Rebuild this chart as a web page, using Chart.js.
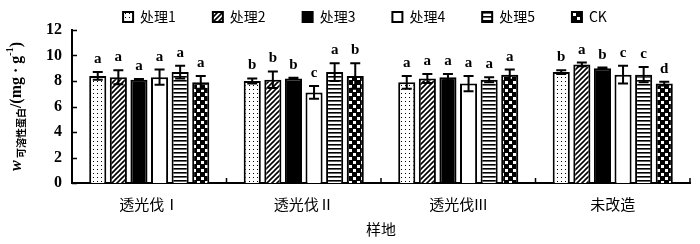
<!DOCTYPE html>
<html>
<head>
<meta charset="utf-8">
<script src="https://cdn.jsdelivr.net/npm/chart.js@4.4.1/dist/chart.umd.min.js"></script>
<style>
  html, body { margin: 0; padding: 0; background: #fff; }
</style>
</head>
<body>
<canvas id="myChart" width="700" height="244"></canvas>
<script>
// sites (x categories) and treatments (series)
const sites = ['透光伐Ⅰ', '透光伐Ⅱ', '透光伐III', '未改造'];
const treatments = ['处理1', '处理2', '处理3', '处理4', '处理5', 'CK'];

// mean soluble protein, mg/g
const t1 = [8.4, 8.0, 7.9, 8.7];
const t2 = [8.3, 8.1, 8.2, 9.3];
const t3 = [8.1, 8.2, 8.3, 9.0];
const t4 = [8.3, 7.1, 7.8, 8.5];
const t5 = [8.7, 8.7, 8.1, 8.5];
const ck = [7.9, 8.4, 8.5, 7.8];

// standard errors
const t1Err = [0.3, 0.2, 0.5, 0.15];
const t2Err = [0.55, 0.65, 0.35, 0.15];
const t3Err = [0.05, 0.05, 0.25, 0.05];
const t4Err = [0.6, 0.5, 0.6, 0.7];
const t5Err = [0.5, 0.7, 0.2, 0.6];
const ckErr = [0.5, 1.0, 0.4, 0.15];

// significance letters
const t1Sig = ['a', 'b', 'a', 'b'];
const t2Sig = ['a', 'b', 'a', 'a'];
const t3Sig = ['a', 'b', 'a', 'b'];
const t4Sig = ['a', 'c', 'a', 'c'];
const t5Sig = ['a', 'a', 'a', 'c'];
const ckSig = ['a', 'b', 'a', 'd'];

const yTicks = [0, 2, 4, 6, 8, 10, 12];

const seriesValues = [t1, t2, t3, t4, t5, ck];
const seriesErr = [t1Err, t2Err, t3Err, t4Err, t5Err, ckErr];
const seriesSig = [t1Sig, t2Sig, t3Sig, t4Sig, t5Sig, ckSig];

// ---- fill patterns ----
const makeTile = (w, h, draw) => {
  const c = document.createElement('canvas');
  c.width = w;
  c.height = h;
  const g = c.getContext('2d');
  g.fillStyle = '#fff';
  g.fillRect(0, 0, w, h);
  g.fillStyle = '#000';
  g.strokeStyle = '#000';
  draw(g);
  return document.getElementById('myChart').getContext('2d').createPattern(c, 'repeat');
};

const dots = makeTile(4, 4, (g) => {
  g.fillRect(1, 1, 1, 1);
});
const hatch = makeTile(5, 5, (g) => {
  g.lineWidth = 1.6;
  g.beginPath();
  g.moveTo(-1, 6); g.lineTo(6, -1);
  g.moveTo(-1, 1); g.lineTo(1, -1);
  g.moveTo(4, 6); g.lineTo(6, 4);
  g.stroke();
});
const stripes = makeTile(4, 4, (g) => {
  g.fillRect(0, 0, 4, 1.6);
});
const checker = makeTile(8, 8, (g) => {
  g.fillRect(0, 0, 8, 8);
  g.fillStyle = '#fff';
  g.fillRect(1, 1, 3, 3);
  g.fillRect(5, 5, 3, 3);
});

const fills = [dots, hatch, '#000', '#fff', stripes, checker];

const data = {
  labels: sites,
  datasets: treatments.map((name, i) => ({
    label: name,
    data: seriesValues[i],
    backgroundColor: fills[i],
    borderColor: '#000',
    borderWidth: 2,
    categoryPercentage: 0.8,
    barPercentage: 0.83,
  })),
};

// error bars + significance letters
const errorBars = {
  id: 'errorBars',
  afterDatasetsDraw: (chart) => {
    const ctx = chart.ctx;
    const y = chart.scales.y;
    ctx.save();
    ctx.strokeStyle = '#000';
    ctx.lineWidth = 2;
    ctx.fillStyle = '#000';
    ctx.font = 'bold 15px "Liberation Serif"';
    ctx.textAlign = 'center';
    ctx.textBaseline = 'alphabetic';
    chart.data.datasets.forEach((ds, di) => {
      const meta = chart.getDatasetMeta(di);
      meta.data.forEach((bar, i) => {
        const v = ds.data[i];
        const e = seriesErr[di][i];
        const yt = y.getPixelForValue(v + e);
        const yb = y.getPixelForValue(v - e);
        ctx.beginPath();
        ctx.moveTo(bar.x, yt);
        ctx.lineTo(bar.x, yb);
        ctx.moveTo(bar.x - 5, yt);
        ctx.lineTo(bar.x + 5, yt);
        ctx.moveTo(bar.x - 5, yb);
        ctx.lineTo(bar.x + 5, yb);
        ctx.stroke();
        ctx.fillText(seriesSig[di][i], bar.x, yt - 9);
      });
    });
    ctx.restore();
  },
};

// inward tick marks on both axes
const innerTicks = {
  id: 'innerTicks',
  afterDraw: (chart) => {
    const ctx = chart.ctx;
    const { x, y } = chart.scales;
    const area = chart.chartArea;
    ctx.save();
    ctx.strokeStyle = '#000';
    ctx.lineWidth = 1.5;
    ctx.beginPath();
    y.ticks.forEach((t) => {
      const py = Math.round(y.getPixelForValue(t.value)) + 0.5;
      ctx.moveTo(area.left, py);
      ctx.lineTo(area.left + 5, py);
    });
    const cw = (x.right - x.left) / sites.length;
    for (let k = 1; k <= sites.length; k++) {
      const px = x.left + k * cw;
      ctx.moveTo(px, area.bottom);
      ctx.lineTo(px, area.bottom - 5);
    }
    ctx.stroke();
    ctx.restore();
  },
};

// y title with subscript / superscript
const yTitle = {
  id: 'yTitle',
  afterDraw: (chart) => {
    const ctx = chart.ctx;
    const area = chart.chartArea;
    const parts = [
      { t: 'w', f: 'italic bold 16px "Liberation Serif"', dy: 0 },
      { t: ' 可溶性蛋白', f: 'bold 10px "Noto Sans CJK SC"', dy: 4 },
      { t: '/(mg · g', f: 'bold 16px "Liberation Serif"', dy: 0 },
      { t: '-1', f: 'bold 10px "Liberation Serif"', dy: -8 },
      { t: ')', f: 'bold 16px "Liberation Serif"', dy: 0 },
    ];
    ctx.save();
    ctx.fillStyle = '#000';
    ctx.textBaseline = 'alphabetic';
    ctx.textAlign = 'left';
    let total = 0;
    parts.forEach((p) => {
      ctx.font = p.f;
      p.w = ctx.measureText(p.t).width;
      total += p.w;
    });
    ctx.translate(21, (area.top + area.bottom) / 2);
    ctx.rotate(-Math.PI / 2);
    let cx = -total / 2;
    parts.forEach((p) => {
      ctx.font = p.f;
      ctx.fillText(p.t, cx, p.dy);
      cx += p.w;
    });
    ctx.restore();
  },
};

const config = {
  type: 'bar',
  data: data,
  plugins: [errorBars, innerTicks, yTitle],
  options: {
    responsive: false,
    animation: false,
    devicePixelRatio: 1,
    layout: { padding: { left: 40, right: 10, top: -27, bottom: 0 } },
    plugins: {
      tooltip: { enabled: false },
      legend: {
        position: 'top',
        maxHeight: 57,
        labels: {
          boxWidth: 10,
          boxHeight: 10,
          padding: 37,
          color: '#000',
          font: { family: '"Noto Sans CJK SC"', size: 14 },
        },
      },
    },
    scales: {
      x: {
        grid: { display: false, drawTicks: false },
        border: { color: '#000', width: 2 },
        ticks: {
          color: '#000',
          padding: 12,
          font: { family: '"Noto Sans CJK SC"', size: 15 },
        },
        title: {
          display: true,
          text: '样地',
          color: '#000',
          font: { family: '"Noto Sans CJK SC"', size: 15 },
          padding: { top: 4, bottom: 6 },
        },
        afterFit: (s) => { s.height = 61; },
      },
      y: {
        min: 0,
        max: 12,
        afterBuildTicks: (s) => { s.ticks = yTicks.map((v) => ({ value: v })); },
        grid: { display: false, drawTicks: false },
        border: { color: '#000', width: 2 },
        ticks: {
          color: '#000',
          padding: 10,
          font: { family: '"Liberation Serif"', size: 16, weight: 'bold' },
        },
        afterFit: (s) => { s.width = 32; },
      },
    },
  },
};

const myChart = new Chart(document.getElementById('myChart'), config);
</script>
</body>
</html>
